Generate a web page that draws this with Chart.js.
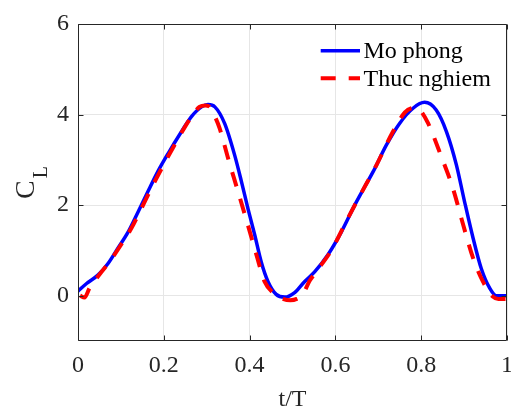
<!DOCTYPE html>
<html>
<head>
<meta charset="utf-8">
<script src="https://cdn.jsdelivr.net/npm/chart.js@4/dist/chart.umd.min.js"></script>
<style>
  html, body { margin: 0; padding: 0; background: #ffffff; }
  #wrap { width: 511px; height: 408px; position: relative; }
</style>
</head>
<body>
<div id="wrap"><canvas id="c" width="511" height="408"></canvas></div>
<script>
// ---- data ----
const seriesNames = ['Mo phong', 'Thuc nghiem'];
const tSim = [0, 0.02, 0.047, 0.07, 0.093, 0.117, 0.14, 0.163, 0.186, 0.21, 0.241, 0.264, 0.288, 0.303, 0.319, 0.342, 0.365, 0.381, 0.396, 0.412, 0.427, 0.443, 0.462, 0.482, 0.505, 0.528, 0.552, 0.583, 0.614, 0.645, 0.668, 0.688, 0.719, 0.75, 0.781, 0.808, 0.835, 0.859, 0.882, 0.901, 0.921, 0.94, 0.96, 0.975, 1.0];
const clSim = [0.10, 0.27, 0.46, 0.71, 1.05, 1.41, 1.85, 2.30, 2.74, 3.14, 3.62, 3.95, 4.17, 4.22, 4.17, 3.80, 3.11, 2.52, 1.93, 1.34, 0.75, 0.31, 0.03, -0.03, 0.07, 0.31, 0.53, 0.91, 1.41, 2.00, 2.40, 2.74, 3.33, 3.81, 4.14, 4.27, 4.10, 3.62, 2.89, 2.08, 1.27, 0.60, 0.16, 0.0, 0.0];
const tExp = [0.005, 0.015, 0.027, 0.05, 0.075, 0.1, 0.125, 0.15, 0.175, 0.2, 0.225, 0.25, 0.27, 0.283, 0.297, 0.307, 0.318, 0.33, 0.35, 0.373, 0.396, 0.416, 0.435, 0.459, 0.475, 0.495, 0.51, 0.524, 0.54, 0.552, 0.591, 0.629, 0.66, 0.696, 0.734, 0.762, 0.777, 0.79, 0.80, 0.816, 0.847, 0.874, 0.898, 0.921, 0.944, 0.967, 0.98, 1.0];
const clExp = [0.0, -0.04, 0.17, 0.47, 0.77, 1.12, 1.50, 1.97, 2.45, 2.90, 3.33, 3.74, 4.02, 4.17, 4.20, 4.17, 3.98, 3.70, 3.03, 2.30, 1.56, 0.90, 0.31, 0.03, -0.06, -0.10, -0.07, 0.03, 0.33, 0.49, 1.01, 1.71, 2.26, 2.89, 3.62, 4.05, 4.14, 4.15, 4.07, 3.81, 3.07, 2.37, 1.56, 0.83, 0.31, -0.02, -0.07, -0.07];
const xTicks = [0, 0.2, 0.4, 0.6, 0.8, 1];
const xTickLabels = ['0', '0.2', '0.4', '0.6', '0.8', '1'];
const yTicks = [0, 2, 4, 6];
const yTickLabels = ['0', '2', '4', '6'];
const xTitle = 't/T';
const yTitleMain = 'C';
const yTitleSub = 'L';

const FONT = '"Liberation Serif", "Times New Roman", serif';
const TXT = '#262626';

const toPts = (xs, ys) => xs.map((x, i) => ({ x: x, y: ys[i] }));

// box with inward ticks on all sides + y title + legend
const decor = {
  id: 'decor',
  afterDatasetsDraw(chart) {
    const { ctx, chartArea: a, scales } = chart;
    const xs = scales.x, ys = scales.y;
    ctx.save();
    ctx.strokeStyle = TXT;
    ctx.lineWidth = 1;
    ctx.setLineDash([]);
    const L = Math.round(a.left) + 0.5, R = Math.round(a.right) - 0.5;
    const T = Math.round(a.top) + 0.5, B = Math.round(a.bottom) - 0.5;
    ctx.beginPath();
    ctx.rect(L, T, R - L, B - T);
    const tl = 5;
    xTicks.forEach(v => {
      const px = Math.round(xs.getPixelForValue(v)) + 0.5;
      ctx.moveTo(px, B); ctx.lineTo(px, B - tl);
      ctx.moveTo(px, T); ctx.lineTo(px, T + tl);
    });
    yTicks.forEach(v => {
      const py = Math.round(ys.getPixelForValue(v)) + 0.5;
      ctx.moveTo(L, py); ctx.lineTo(L + tl, py);
      ctx.moveTo(R, py); ctx.lineTo(R - tl, py);
    });
    ctx.stroke();

    // legend
    const items = chart.data.datasets;
    const lx0 = 320.7, lx1 = 360, tx = 363.5;
    const rowsY = [50.7, 78.3];
    const baseY = [58.3, 85.7];
    items.forEach((ds, i) => {
      ctx.beginPath();
      ctx.strokeStyle = ds.borderColor;
      ctx.lineWidth = ds.borderWidth;
      ctx.lineCap = 'butt';
      ctx.setLineDash(ds.borderDash || []);
      ctx.moveTo(lx0, rowsY[i]); ctx.lineTo(lx1, rowsY[i]);
      ctx.stroke();
      ctx.setLineDash([]);
      ctx.fillStyle = '#000000';
      ctx.font = '24px ' + FONT;
      ctx.textAlign = 'left';
      ctx.textBaseline = 'alphabetic';
      ctx.fillText(ds.label, tx, baseY[i]);
    });
    ctx.restore();
  },
  afterDraw(chart) {
    const { ctx, chartArea: a } = chart;
    ctx.save();
    ctx.fillStyle = TXT;
    const cy = (a.top + a.bottom) / 2;
    ctx.translate(33.5, cy);
    ctx.rotate(-Math.PI / 2);
    ctx.textBaseline = 'alphabetic';
    ctx.textAlign = 'left';
    ctx.font = '28px ' + FONT;
    const wC = ctx.measureText(yTitleMain).width;
    ctx.font = '20px ' + FONT;
    const wL = ctx.measureText(yTitleSub).width;
    const start = -(wC + wL + 2) / 2;
    ctx.font = '28px ' + FONT;
    ctx.fillText(yTitleMain, start, 0);
    ctx.font = '20px ' + FONT;
    ctx.fillText(yTitleSub, start + wC + 2, 13.5);
    ctx.restore();
  }
};

new Chart(document.getElementById('c'), {
  type: 'scatter',
  data: {
    datasets: [
      {
        label: seriesNames[0],
        data: toPts(tSim, clSim),
        showLine: true,
        borderColor: '#0000ff',
        backgroundColor: '#0000ff',
        borderWidth: 3.5,
        pointRadius: 0,
        cubicInterpolationMode: 'monotone',
        order: 2
      },
      {
        label: seriesNames[1],
        data: toPts(tExp, clExp),
        showLine: true,
        borderColor: '#ff0000',
        backgroundColor: '#ff0000',
        borderWidth: 4,
        borderDash: [15, 13],
        borderCapStyle: 'butt',
        pointRadius: 0,
        cubicInterpolationMode: 'monotone',
        order: 1
      }
    ]
  },
  options: {
    responsive: false,
    animation: false,
    devicePixelRatio: 1,
    layout: { padding: { top: 24, right: 4, left: 0, bottom: 0 } },
    plugins: { legend: { display: false }, tooltip: { enabled: false } },
    scales: {
      x: {
        type: 'linear',
        min: 0, max: 1,
        afterBuildTicks: s => { s.ticks = xTicks.map(v => ({ value: v })); },
        afterFit: s => { s.height = 67; s.paddingLeft = 0; s.paddingRight = 0; },
        ticks: {
          padding: 10,
          color: TXT,
          font: { family: FONT, size: 24 },
          maxRotation: 0,
          autoSkip: false,
          callback: (v) => { const i = xTicks.indexOf(v); return i >= 0 ? xTickLabels[i] : ''; }
        },
        grid: { color: '#e6e6e6', lineWidth: 1, drawTicks: false },
        border: { display: false },
        title: {
          display: true, text: xTitle, color: TXT,
          font: { family: FONT, size: 24, lineHeight: 1 },
          padding: { top: 0, bottom: -3.5 }
        }
      },
      y: {
        type: 'linear',
        min: -1, max: 6,
        afterBuildTicks: s => { s.ticks = yTicks.map(v => ({ value: v })); },
        afterFit: s => { s.width = 78; s.paddingTop = 0; s.paddingBottom = 0; },
        ticks: {
          padding: 9,
          color: TXT,
          font: { family: FONT, size: 24 },
          callback: (v) => { const i = yTicks.indexOf(v); return i >= 0 ? yTickLabels[i] : ''; }
        },
        grid: { color: '#e6e6e6', lineWidth: 1, drawTicks: false },
        border: { display: false }
      }
    }
  },
  plugins: [decor]
});
</script>
</body>
</html>
